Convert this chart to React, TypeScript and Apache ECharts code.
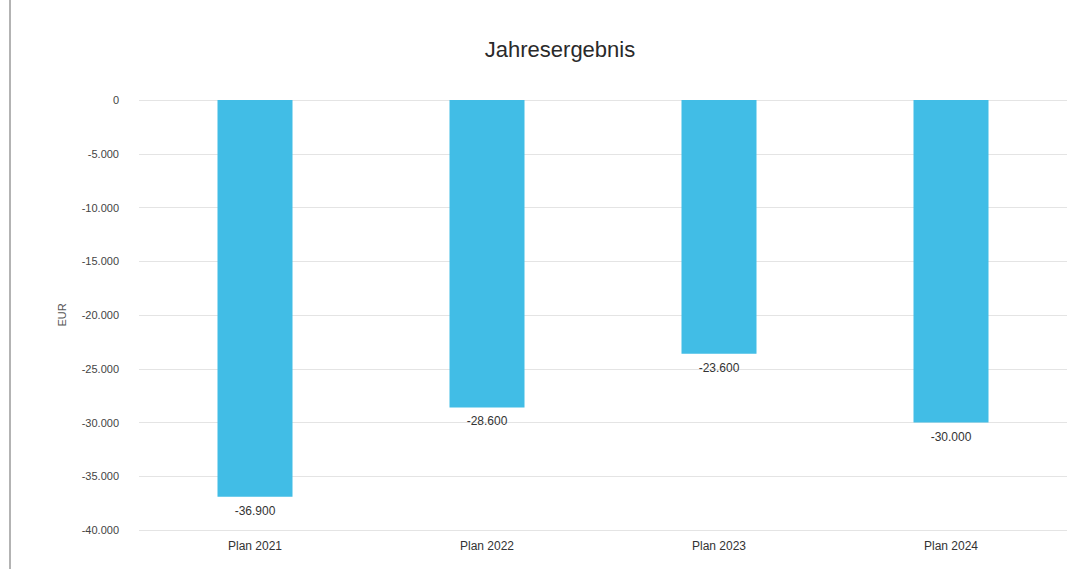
import React, { useEffect, useRef } from "react";
import * as echarts from "echarts";

const categories = ["Plan 2021", "Plan 2022", "Plan 2023", "Plan 2024"];
const values = [-36900, -28600, -23600, -30000];
const yMin = -40000;
const yMax = 0;
const yStep = 5000;

function fmt(v: number): string {
  const neg = v < 0;
  const s = Math.abs(Math.round(v)).toString().replace(/\B(?=(\d{3})+(?!\d))/g, ".");
  return (neg ? "-" : "") + s;
}

export default function App() {
  const ref = useRef<HTMLDivElement>(null);
  useEffect(() => {
    if (!ref.current) return;
    const chart = echarts.init(ref.current, undefined, { renderer: "svg" });
    chart.setOption({
      animation: false,
      backgroundColor: "#ffffff",
      textStyle: { fontFamily: "Liberation Sans, Arial, sans-serif" },
      title: {
        text: "Jahresergebnis",
        left: 555,
        textAlign: "center",
        top: 33,
        textStyle: { fontSize: 22, fontWeight: "normal", color: "#2a2a2a", fontFamily: "Liberation Sans, Arial, sans-serif" },
      },
      grid: { left: 139, right: 23, top: 100, bottom: 39, containLabel: false },
      xAxis: {
        type: "category",
        data: categories,
        position: "bottom",
        axisLine: { show: false },
        axisTick: { show: false },
        axisLabel: { color: "#333", fontSize: 12, margin: 10 },
      },
      yAxis: {
        type: "value",
        min: yMin,
        max: yMax,
        interval: yStep,
        name: "EUR",
        nameLocation: "middle",
        nameGap: 72,
        nameTextStyle: { color: "#555", fontSize: 11 },
        axisLine: { show: false },
        axisTick: { show: false },
        axisLabel: { color: "#444", fontSize: 11, margin: 20, formatter: (v: number) => fmt(v) },
        splitLine: { lineStyle: { color: "#e4e4e4", width: 1 } },
      },
      graphic: [
        { type: "line", shape: { x1: 10, y1: 0, x2: 10, y2: 569 }, style: { stroke: "#9a9a9a", lineWidth: 1.5 } },
      ],
      series: [
        {
          type: "bar",
          data: values,
          barWidth: 75,
          itemStyle: { color: "#41BDE6" },
          label: {
            show: true,
            position: "bottom",
            distance: 8,
            color: "#333",
            fontSize: 12,
            formatter: (p: any) => fmt(p.value),
          },
        },
      ],
    });
    return () => chart.dispose();
  }, []);
  return <div ref={ref} style={{ position: "fixed", left: 0, top: 0, width: 1090, height: 569 }} />;
}
